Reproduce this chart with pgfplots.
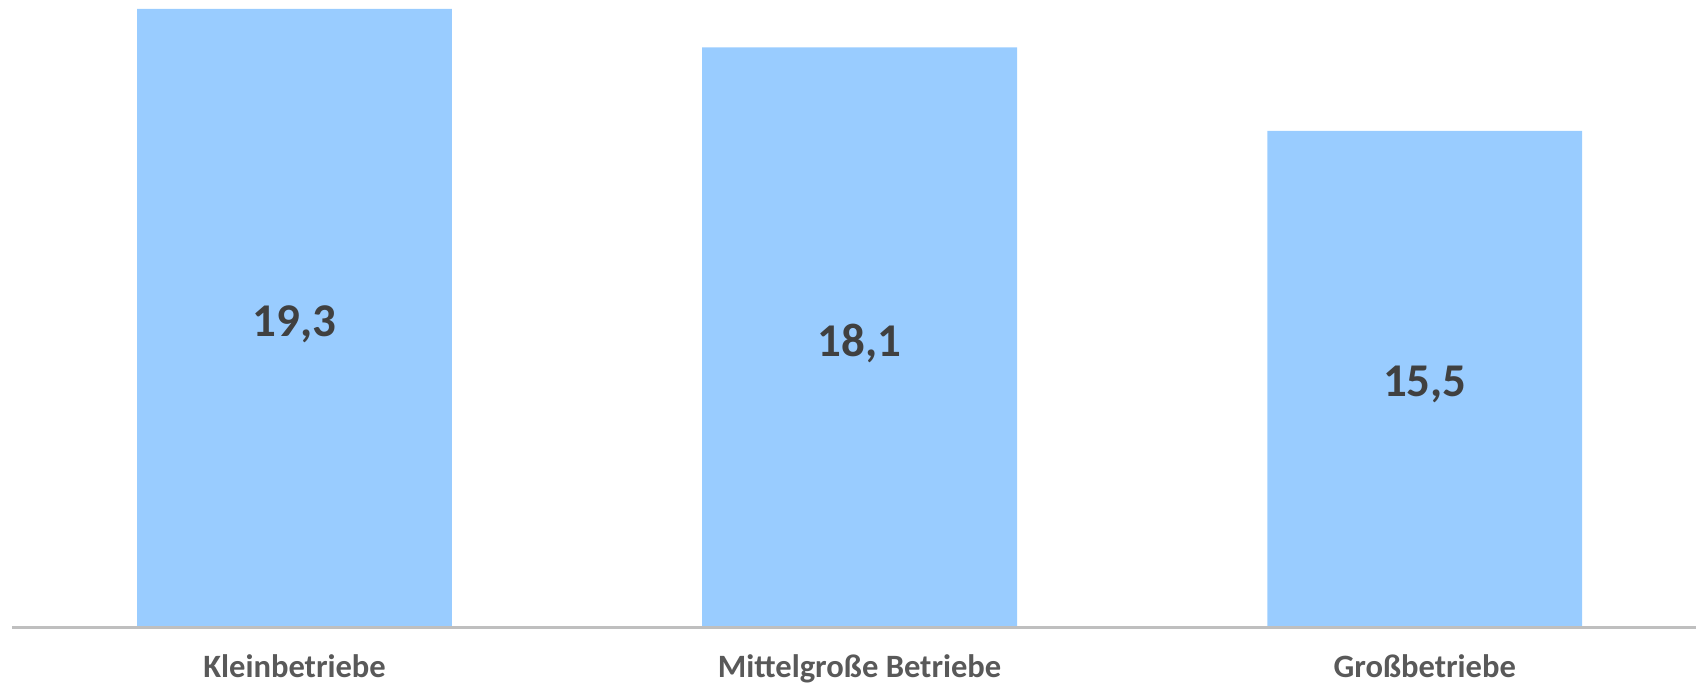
\documentclass[border=0pt]{standalone}
\usepackage{pgfplots}
\usepackage{pgfplotstable}
\pgfplotsset{compat=1.18}
\usepackage{fontspec}
\setmainfont{Carlito}
\definecolor{barblue}{HTML}{99CCFF}
\definecolor{axgray}{HTML}{BFBFBF}
\definecolor{lbl}{HTML}{595959}
\definecolor{val}{HTML}{404040}
\pgfplotstableread{
x y
0 19.3
1 18.1
2 15.5
}\data
\begin{document}
\begin{tikzpicture}
\begin{axis}[
  scale only axis, width=842.5pt, height=314pt,
  xmin=-0.5, xmax=2.48, ymin=0, ymax=19.58,
  axis y line=none, axis x line*=bottom,
  axis line style={axgray, line width=1.5pt},
  x axis line style={-},
  xtick=data, xticklabels={Kleinbetriebe, Mittelgroße Betriebe, Großbetriebe},
  major tick length=0pt,
  xticklabel style={font=\fontsize{16.3}{18}\selectfont\bfseries, text=lbl, yshift=-10pt},
  ytick=\empty,
  clip=false,
  axis on top=true,
  /pgf/number format/assume math mode=true,
]
\addplot[ybar, bar width=157.5pt, fill=barblue, draw=none] table[x=x, y=y]{\data};
\addplot[draw=none, mark=none, nodes near coords, point meta=explicit,
  nodes near coords style={anchor=center, yshift=-2.8pt, font=\fontsize{23.5}{28}\selectfont\bfseries, text=val,
    /pgf/number format/.cd, fixed, fixed zerofill, precision=1, use comma, assume math mode=true}]
  table[x=x, y expr=\thisrow{y}/2, meta=y]{\data};
\coordinate (sw) at (rel axis cs:0,0);
\coordinate (ne) at (rel axis cs:1,1);
\end{axis}
\pgfresetboundingbox
\path (sw) ++(-6pt,-28.5pt) rectangle (ne);
\end{tikzpicture}
\end{document}
